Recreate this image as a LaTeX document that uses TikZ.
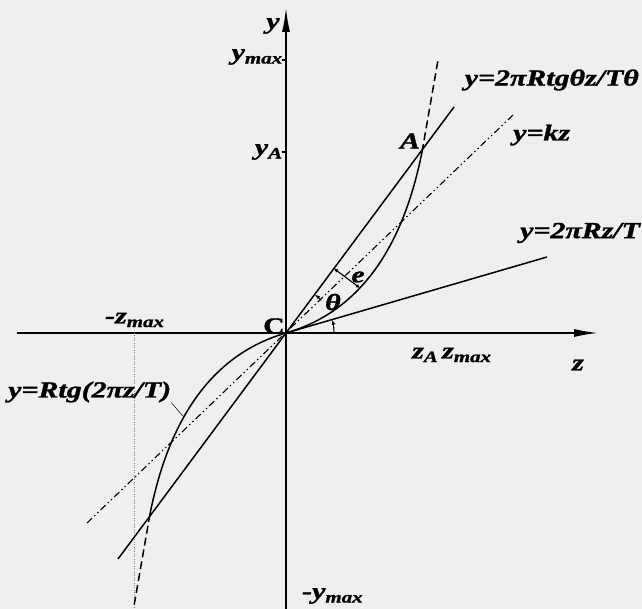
\documentclass[tikz,border=0pt]{standalone}
\usepackage{fontspec}
\setmainfont{Liberation Serif}[BoldItalicFeatures={FakeBold=1.2}, BoldFeatures={FakeBold=1.2}]
\usepackage{graphicx}
\usepackage{tikz}
\usetikzlibrary{calc}
\usetikzlibrary{arrows}
\usetikzlibrary{arrows.meta}
\usetikzlibrary{positioning}
\definecolor{paper}{RGB}{239,239,238}
\tikzset{>=latex}
\tikzstyle{lab} = [inner sep=0pt, font=\fontsize{23}{26}\selectfont\bfseries\itshape]
\tikzstyle{curve} = [line width=1.5pt]
\tikzstyle{axis} = [line width=1.5pt, -{Latex[length=24pt, width=8pt]}]
\tikzstyle{dotdash} = [line width=1.1pt, dash pattern=on 7pt off 3pt on 1.4pt off 3pt on 1.4pt off 3pt]
\tikzstyle{tickline} = [line width=1.1pt]
\newcommand{\wide}[1]{\scalebox{1.3}[1]{#1}}

\begin{document}
\begin{tikzpicture}[x=1pt, y=1pt]
\fill [paper] (-286, -276) rectangle (356, 333);
\useasboundingbox (-286, -276) rectangle (356, 333);
% axes
\coordinate (C) at (0, 0);
\coordinate (zL) at (-269, 0);
\coordinate (zR) at (312, 0);
\coordinate (yB) at (0, -276);
\coordinate (yT) at (0, 325);
\draw [axis] (zL) to (zR);
\draw [axis] (yB) to (yT);
\coordinate (ymx) at (0, 273);
\coordinate (yAp) at (0, 181);
\draw [tickline] (ymx) -- ++(-4, 0);
\draw [tickline] (yAp) -- ++(-4, 0);
\coordinate (zmn) at (-152, 0);
\draw [gray, line width=0.4pt, dotted] (zmn) to (zmn |- yB);

% curve y=Rtg(2piz/T)
\coordinate (A) at (136, 181);
\coordinate (Am) at (-136, -181);
\coordinate (top) at (152, 273);
\coordinate (bot) at (-152, -273);
\draw [curve] (C) .. controls (70.7, 20.5) and (116, 80.8) .. (A);
\draw [curve] (C) .. controls (-70.7, -20.5) and (-116, -80.8) .. (Am) coordinate[pos=0.62] (lead);
\draw [curve, dash pattern=on 8pt off 4pt] (A) to (top);
\draw [curve, dash pattern=on 8pt off 4pt] (Am) to (bot);

% straight lines
\coordinate (s1) at (-168, -226);
\coordinate (s2) at (168, 226);
\coordinate (k1) at (-199, -190);
\coordinate (k2) at (227, 218);
\coordinate (t2) at (261, 76);
\draw [curve] (s1) to (s2);
\draw [dotdash] (k1) to (k2);
\draw [curve] (C) to (t2);

% e and theta
\coordinate (e1) at (48, 64.4);
\coordinate (e2) at (74, 45);
\draw [tickline, {Latex[length=4pt, width=4pt]}-{Latex[length=4pt, width=4pt]}] (e1) to (e2);
\draw [tickline, -{Latex[length=5pt, width=4pt]}] ($(C)+(1:48)$) arc [start angle=1, end angle=16, radius=48];
\draw [tickline, -{Latex[length=5pt, width=4pt]}] ($(C)+(43:48)$) arc [start angle=43, end angle=53, radius=48];

% labels
\node [lab] (ylab) at (-13, 307) {\wide{y}};
\node [lab, anchor=east] (ymaxlab) at (-3, 276) {\wide{y\textsubscript{max}}};
\node [lab, anchor=east] (yAlab) at (-3, 181) {\wide{y\textsubscript{A}}};
\node [lab] (Alab) at (124, 192) {\wide{A}};
\node [lab, font=\fontsize{23}{26}\selectfont\bfseries] (Clab) at (-12, 7) {\wide{C}};
\node [lab] (elab) at (72, 56) {\wide{e}};
\node [lab] (thlab) at (47, 31) {\wide{θ}};
\node [lab, anchor=east] (secant) at (353, 253) {\wide{y=2πRtgθz/Tθ}};
\node [lab, anchor=west] (kzlab) at (227, 198) {\wide{y=kz}};
\node [lab, anchor=west] (tanlab) at (234, 100) {\wide{y=2πRz/T}};
\node [lab, anchor=west] (lblRtg) at (-278, -59) {\wide{y=Rtg(2πz/T)}};
\node [lab, anchor=west] (zmnlab) at (-181, 13) {\wide{-z\textsubscript{max}}};
\node [lab, anchor=west] (zAlab) at (126, -22) {\wide{z\textsubscript{A}}};
\node [lab, anchor=west] (zmxlab) at (156, -22) {\wide{z\textsubscript{max}}};
\node [lab] (zlab) at (292, -32) {\wide{z}};
\node [lab, anchor=west] (ymnlab) at (16, -263) {\wide{-y\textsubscript{max}}};
\draw [line width=0.5pt] (lblRtg.south east) to (lead);
\end{tikzpicture}
\end{document}
